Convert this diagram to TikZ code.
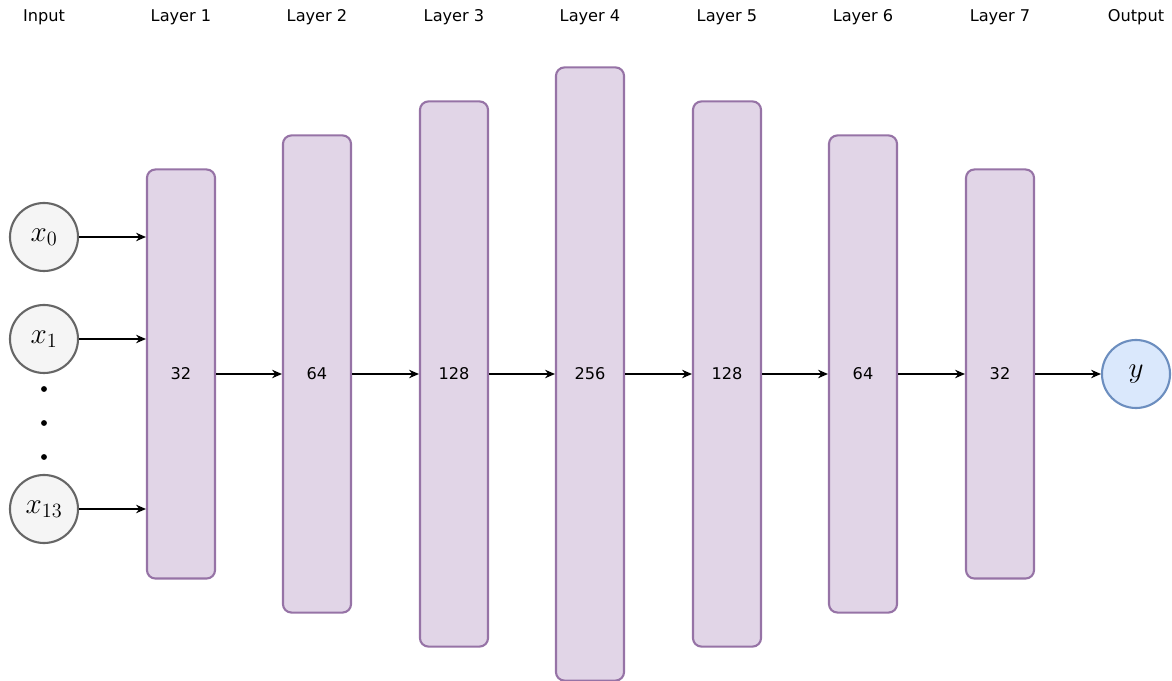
\documentclass[tikz,border=0pt]{standalone}
\usepackage{fontspec}
\setmainfont{DejaVu Sans}
\definecolor{capa}{HTML}{E1D5E7}
\definecolor{capaborde}{HTML}{9673A6}
\definecolor{entrada}{HTML}{F5F5F5}
\definecolor{entradaborde}{HTML}{666666}
\definecolor{salida}{HTML}{DAE8FC}
\definecolor{salidaborde}{HTML}{6C8EBF}
\usetikzlibrary{arrows.meta, positioning}

\begin{document}
\begin{tikzpicture}[
  x=0.025cm, y=-0.025cm,
  capa/.style={draw=capaborde, fill=capa, line width=1.5pt, rounded corners=6pt,
               minimum width=1.7cm, inner sep=0pt, font=\fontsize{11.5}{13}\selectfont},
  neurona/.style={circle, draw=entradaborde, fill=entrada, line width=1.5pt,
                  minimum size=1.7cm, inner sep=0pt, font=\huge},
  punto/.style={circle, fill=black, minimum size=4.2pt, inner sep=0pt},
  titulo/.style={font=\fontsize{11.5}{13}\selectfont},
  flecha/.style={-{Stealth[length=7pt, width=6pt]}, line width=1.1pt},
]
\useasboundingbox (0,0) rectangle (1172,681);

% capas
\node[capa, minimum height=10.225cm] (l1) at (181,374) {32};
\node[capa, minimum height=11.925cm] (l2) at (317,374) {64};
\node[capa, minimum height=13.625cm] (l3) at (454,374) {128};
\node[capa, minimum height=15.325cm] (l4) at (590,374) {256};
\node[capa, minimum height=13.625cm] (l5) at (727,374) {128};
\node[capa, minimum height=11.925cm] (l6) at (863,374) {64};
\node[capa, minimum height=10.225cm] (l7) at (1000,374) {32};

% entradas y salida
\node[neurona] (x0) at (44,237) {$x_0$};
\node[neurona] (x1) at (44,339) {$x_1$};
\node[neurona] (x13) at (44,509) {$x_{13}$};
\node[punto] (p1) at (44,389) {};
\node[punto] (p2) at (44,423) {};
\node[punto] (p3) at (44,457) {};
\node[neurona, draw=salidaborde, fill=salida] (y) at (1136,374) {$y$};

% titulos
\node[titulo] (tin) at (44,17) {Input};
\node[titulo] (t1) at (181,17) {Layer 1};
\node[titulo] (t2) at (317,17) {Layer 2};
\node[titulo] (t3) at (454,17) {Layer 3};
\node[titulo] (t4) at (590,17) {Layer 4};
\node[titulo] (t5) at (727,17) {Layer 5};
\node[titulo] (t6) at (863,17) {Layer 6};
\node[titulo] (t7) at (1000,17) {Layer 7};
\node[titulo] (tout) at (1136,17) {Output};

% conexiones
\draw[flecha] (x0) -- (x0 -| l1.west);
\draw[flecha] (x1) -- (x1 -| l1.west);
\draw[flecha] (x13) -- (x13 -| l1.west);
\draw[flecha] (l1) -- (l2);
\draw[flecha] (l2) -- (l3);
\draw[flecha] (l3) -- (l4);
\draw[flecha] (l4) -- (l5);
\draw[flecha] (l5) -- (l6);
\draw[flecha] (l6) -- (l7);
\draw[flecha] (l7) -- (y);
\end{tikzpicture}
\end{document}
